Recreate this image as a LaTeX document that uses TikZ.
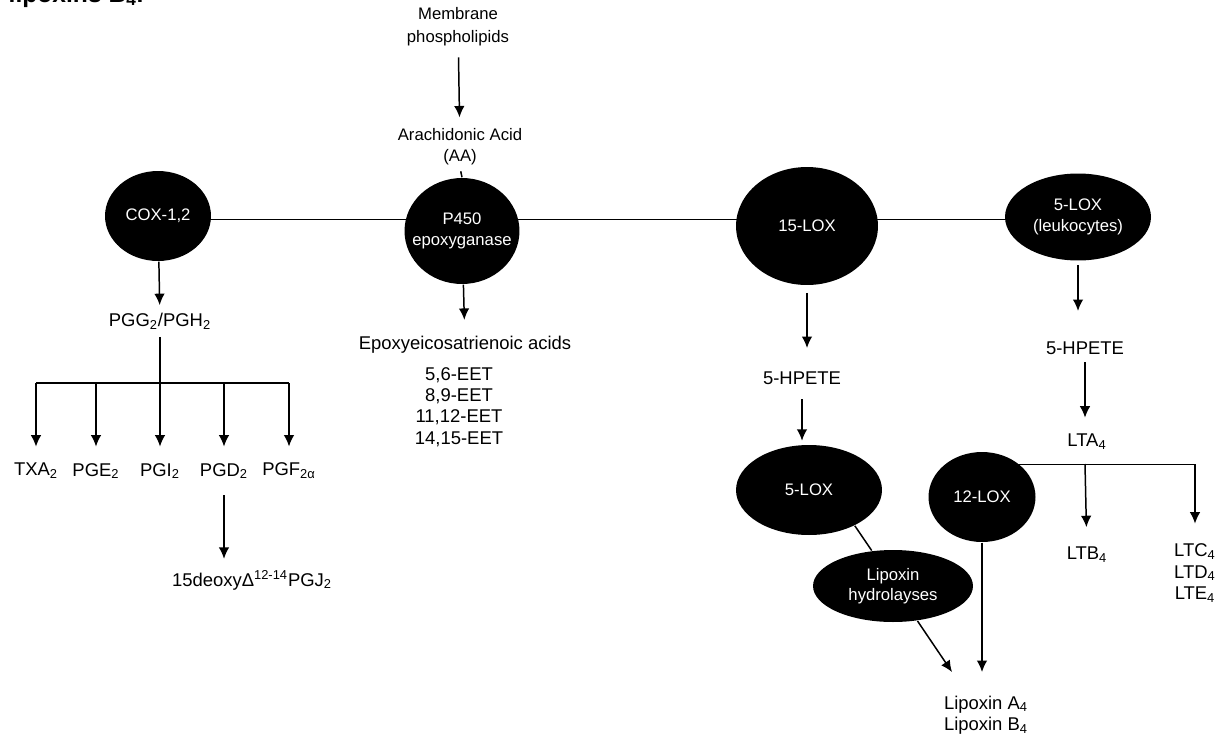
\documentclass[tikz,border=0pt]{standalone}
\usepackage{fontspec}
\setmainfont{Liberation Sans}
\usetikzlibrary{shapes.geometric, arrows.meta, backgrounds}

\begin{document}
\begin{tikzpicture}[x=0.02cm, y=-0.02cm, >={Latex[length=6.5pt,width=6pt]}, line width=0.85pt,
        enzyme/.style={ellipse, fill=black, text=white, inner sep=-8pt, align=center, font=\fontsize{9.5}{11.5}\selectfont},
        chem/.style={align=center, inner sep=1pt, font=\fontsize{10.5}{12.2}\selectfont},
        smalltxt/.style={align=center, inner sep=1pt, font=\fontsize{9.5}{12}\selectfont}]
        \useasboundingbox (0,0) rectangle (1220,734);

        % ==== CUT-OFF CAPTION LINE ====
        \begin{scope}
            \clip (0,0) rectangle (1220,734);
            \node[anchor=base west, inner sep=0pt, font=\fontsize{14}{16}\selectfont\bfseries] (cut) at (8,2) {lipoxins B\textsubscript{4}.};
        \end{scope}

        % ==== SOURCE ====
        \node[smalltxt, font=\fontsize{9.5}{13}\selectfont] (mem) at (458,27) {Membrane\\phospholipids};
        \node[smalltxt] (aa) at (460,147) {Arachidonic Acid\\(AA)};

        % ==== ENZYMES ON THE MAIN LINE ====
        \node[enzyme, minimum width=2.12cm, minimum height=1.8cm] (cox) at (158,216) {COX-1,2};
        \node[enzyme, minimum width=2.3cm, minimum height=2.12cm] (p450) at (462,231) {P450\\epoxyganase};
        \node[enzyme, minimum width=2.84cm, minimum height=2.36cm] (lox15) at (807,226) {15-LOX};
        \node[enzyme, minimum width=2.92cm, minimum height=1.74cm] (lox5l) at (1078,217) {5-LOX\\(leukocytes)};
        \coordinate (mainl) at (0,219);

        % ==== COX BRANCH ====
        \node[chem] (pgg) at (160,321) {PGG\textsubscript{2}/PGH\textsubscript{2}};
        \coordinate (pgbar) at (160,383);
        \node[chem] (txa) at (36,471) {TXA\textsubscript{2}};
        \node[chem] (pge) at (96,471) {PGE\textsubscript{2}};
        \node[chem] (pgi) at (160,471) {PGI\textsubscript{2}};
        \node[chem] (pgd) at (224,471) {PGD\textsubscript{2}};
        \node[chem] (pgf) at (289,471) {PGF\textsubscript{2α}};
        \node[chem] (pgj) at (252,580) {15deoxyΔ\textsuperscript{12-14}PGJ\textsubscript{2}};

        % ==== P450 BRANCH ====
        \node[chem] (epoxy) at (465,345) {Epoxyeicosatrienoic acids};
        \node[chem] (eet) at (459,407) {5,6-EET\\8,9-EET\\11,12-EET\\14,15-EET};

        % ==== 15-LOX BRANCH ====
        \node[chem] (hpete1) at (802,378) {5-HPETE};
        \node[enzyme, minimum width=2.92cm, minimum height=1.8cm] (lox5) at (809,490) {5-LOX};
        \node[enzyme, minimum width=2.14cm, minimum height=1.8cm] (lox12) at (982,497) {12-LOX};
        \node[enzyme, minimum width=3.2cm, minimum height=1.44cm] (lxh) at (893,586) {Lipoxin\\hydrolayses};
        \node[chem] (lipox) at (986,715) {Lipoxin A\textsubscript{4}\\Lipoxin B\textsubscript{4}};
        \coordinate (lxtip) at (952,672);

        % ==== 5-LOX (LEUKOCYTES) BRANCH ====
        \node[chem] (hpete2) at (1085,348) {5-HPETE};
        \node[chem] (lta) at (1087,442) {LTA\textsubscript{4}};
        \coordinate (ltbar) at (1085,464);
        \node[chem] (ltb) at (1087,555) {LTB\textsubscript{4}};
        \node[chem] (ltc) at (1195,573) {LTC\textsubscript{4}\\LTD\textsubscript{4}\\LTE\textsubscript{4}};

        % ==== LINES BEHIND THE ENZYMES ====
        \begin{scope}[on background layer]
            \draw (cox |- mainl) -- (lox5l |- mainl);
            \draw (lox12 |- ltbar) -- (ltc |- ltbar);
        \end{scope}

        % ==== ARROWS ====
        \draw[->, shorten <=5pt, shorten >=5pt] (mem) -- (aa);
        \draw[shorten <=2pt] (aa.south) -- (p450.north);

        \draw[->, shorten >=3pt] (cox) -- (pgg);
        \draw[shorten <=3pt] (pgg.south) -- (pgbar);
        \draw (txa |- pgbar) -- (pgf |- pgbar);
        \foreach \pg in {txa,pge,pgi,pgd,pgf}
            \draw[->, shorten >=8pt] (\pg |- pgbar) -- (\pg);
        \draw[->, shorten <=8pt, shorten >=5pt] (pgd.south) -- (pgd.south |- pgj.north);

        \draw[->, shorten >=8pt] (p450) -- (epoxy);

        \draw[->, shorten <=4pt, shorten >=12pt] (lox15) -- (lox15 |- hpete1.north);
        \draw[->, shorten <=7pt, shorten >=2pt] (hpete1) -- (hpete1 |- lox5.north);
        \draw (lox5.-38) -- (lxh.121);
        \draw[->] (lxh.-55) -- (lxtip);
        \draw[->] (lox12) -- (lox12 |- lxtip);

        \draw[->, shorten <=2pt, shorten >=16pt] (lox5l) -- (lox5l |- hpete2.north);
        \draw[->, shorten <=3pt, shorten >=8pt] (hpete2) -- (hpete2 |- lta.north);
        \draw[->, shorten >=10pt] (ltbar) -- (ltb);
        \draw[->, shorten >=10pt] (ltc |- ltbar) -- (ltc);

    \end{tikzpicture}
\end{document}
